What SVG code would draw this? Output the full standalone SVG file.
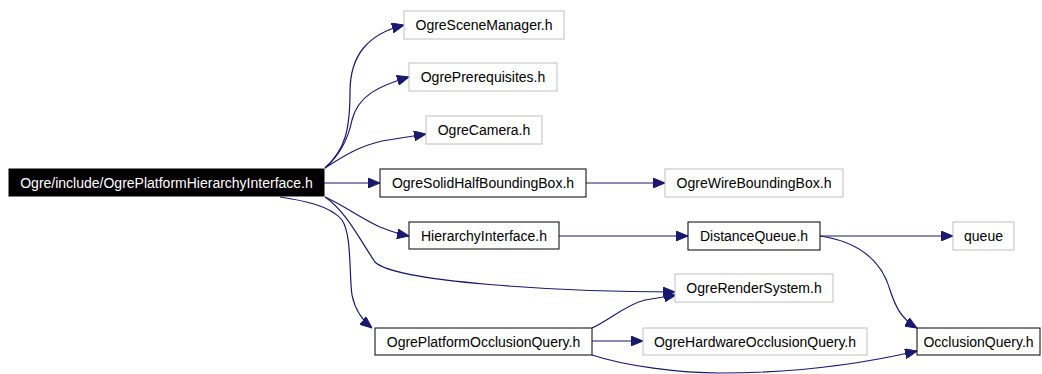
<svg xmlns="http://www.w3.org/2000/svg" width="1042" height="374" viewBox="0 0 1042 374">
<defs>
<style>
.n rect{fill:#fff;stroke:#000;stroke-width:1}
.n.ext rect{stroke:#bfbfbf}
.n text{font-family:"Liberation Sans",Arial,sans-serif;font-size:14px;fill:#000;text-anchor:middle}
#main rect{fill:#000;stroke:#000}
#main text{fill:#fff}
.e path{fill:none;stroke:#191970;stroke-width:1.2;marker-end:url(#ah)}
</style>
<marker id="ah" markerUnits="userSpaceOnUse" markerWidth="12" markerHeight="10" viewBox="0 0 12 10" refX="12" refY="5" orient="auto">
<path d="M0,0 L12,5 L0,10 Z" fill="#191970" stroke="#191970"/>
</marker>
</defs>
<rect width="1042" height="374" fill="#fff"/>
<g id="edges" class="e">
<path d="M325,168 C345,150 350,130 350,92 C350,55 368,34 404,25"/>
<path d="M325,168 C340,155 348,140 352,120 C358,96 378,86 409,77"/>
<path d="M325,168 C345,155 360,146 382,141 L426,134"/>
<path d="M324,183 L380,183"/>
<path d="M325,197 C345,206 360,218 380,227 C390,231 398,234 409,236"/>
<path d="M325,197 C345,210 360,240 375,262 C395,282 560,292 675,292"/>
<path d="M280,197 C300,200 330,205 342,220 C352,235 349,275 352,295 C355,310 362,320 372,328"/>
<path d="M586,183 L665,183"/>
<path d="M559,236 L688,236"/>
<path d="M820,236 L953,236"/>
<path d="M820,236 C860,242 882,262 890,290 C895,305 900,318 917,328"/>
<path d="M592,328 C610,320 625,305 645,300 L676,295"/>
<path d="M592,341 L643,341"/>
<path d="M592,355 C625,366 680,373 720,373 C800,373 870,362 917,351"/>
</g>
<g id="main" class="n"><rect x="9" y="169" width="315" height="27"/><text x="166.5" y="187.5">Ogre/include/OgrePlatformHierarchyInterface.h</text></g>
<g id="n_scenemanager" class="n ext"><rect x="404" y="11" width="160" height="28"/><text x="484" y="30">OgreSceneManager.h</text></g>
<g id="n_prerequisites" class="n ext"><rect x="409" y="63" width="148" height="28"/><text x="483" y="82">OgrePrerequisites.h</text></g>
<g id="n_camera" class="n ext"><rect x="426" y="116" width="116" height="28"/><text x="484" y="135">OgreCamera.h</text></g>
<g id="n_solidhalf" class="n"><rect x="380" y="169" width="206" height="28"/><text x="483" y="188">OgreSolidHalfBoundingBox.h</text></g>
<g id="n_wirebox" class="n ext"><rect x="665" y="169" width="178" height="28"/><text x="754" y="188">OgreWireBoundingBox.h</text></g>
<g id="n_hierarchy" class="n"><rect x="409" y="222" width="150" height="27"/><text x="484" y="240.5">HierarchyInterface.h</text></g>
<g id="n_distance" class="n"><rect x="688" y="222" width="132" height="28"/><text x="754" y="241">DistanceQueue.h</text></g>
<g id="n_queue" class="n ext"><rect x="953" y="222" width="61" height="28"/><text x="983.5" y="241">queue</text></g>
<g id="n_rendersystem" class="n ext"><rect x="675" y="274" width="158" height="28"/><text x="754" y="293">OgreRenderSystem.h</text></g>
<g id="n_platformocc" class="n"><rect x="375" y="328" width="217" height="27"/><text x="483.5" y="346.5">OgrePlatformOcclusionQuery.h</text></g>
<g id="n_hwocc" class="n ext"><rect x="643" y="328" width="224" height="27"/><text x="755" y="346.5">OgreHardwareOcclusionQuery.h</text></g>
<g id="n_occ" class="n"><rect x="917" y="328" width="123" height="27"/><text x="978.5" y="346.5">OcclusionQuery.h</text></g>
</svg>
